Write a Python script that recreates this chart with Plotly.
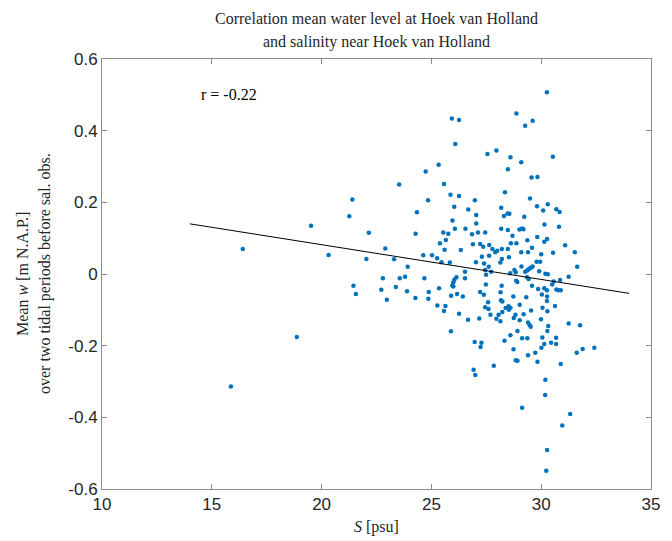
import plotly.graph_objects as go

# Salinity S [psu] and mean water level w [m N.A.P.] per salinity observation
salinity = [
    30.26, 25.93, 26.26, 28.87, 29.27, 29.61, 26.09, 27.55, 27.96, 28.60,
    29.09, 30.53, 28.48, 24.74, 25.33, 23.53, 25.57, 29.56, 29.83, 24.85,
    25.87, 26.26, 28.35, 26.98, 29.49, 24.34, 26.04, 26.68, 27.04, 28.18,
    28.30, 28.47, 28.55, 29.23, 29.81, 30.09, 30.30, 30.69, 30.84, 25.96,
    27.04, 30.15, 30.81, 26.07, 26.55, 28.18, 28.48, 29.01, 29.13, 29.19,
    24.28, 25.54, 25.77, 26.85, 27.12, 27.45, 28.69, 29.82, 30.27, 30.14,
    25.39, 25.66, 26.34, 26.89, 27.22, 27.36, 27.63, 27.91, 28.00, 28.21,
    28.48, 28.62, 28.87, 29.09, 29.37, 29.40, 29.58, 30.00, 30.54, 31.09,
    31.53, 25.60, 24.63, 25.03, 25.26, 25.46, 25.84, 27.03, 27.30, 27.63,
    27.78, 26.53, 27.40, 27.45, 27.61, 27.72, 28.14, 28.21, 28.53, 28.59,
    28.78, 28.84, 29.10, 29.27, 29.36, 29.43, 29.49, 29.55, 29.61, 29.79,
    29.95, 29.91, 30.19, 30.30, 31.64, 27.49, 24.68, 26.00, 26.05, 26.14,
    25.95, 26.53, 27.48, 28.20, 28.86, 28.91, 29.36, 29.43, 29.58, 29.86,
    30.14, 30.50, 30.57, 30.69, 30.78, 30.89, 30.86, 31.25, 24.88, 24.86,
    25.35, 25.90, 26.00, 26.17, 26.43, 27.22, 27.39, 27.58, 28.15, 28.17,
    28.23, 28.51, 28.60, 28.73, 29.02, 29.32, 30.03, 30.27, 30.26, 30.06,
    30.28, 30.63, 29.54, 30.26, 25.27, 25.64, 25.57, 26.26, 26.67, 27.18,
    27.45, 27.60, 27.69, 27.96, 28.06, 28.14, 28.23, 28.38, 28.53, 28.75,
    28.83, 29.02, 29.20, 29.40, 29.52, 29.99, 30.32, 31.25, 31.77, 25.89,
    28.60, 28.92, 29.13, 29.37, 29.47, 30.05, 30.28, 30.68, 26.97, 27.28,
    27.24, 28.33, 28.74, 29.40, 29.73, 30.01, 30.14, 30.45, 31.89, 31.62,
    32.42, 30.68, 26.92, 27.84, 28.84, 28.92, 29.83, 30.89, 27.00, 30.19,
    30.18, 29.13, 31.32, 30.96, 30.27, 30.23, 21.40, 21.26, 19.52, 22.15,
    16.41, 20.32, 22.90, 22.04, 23.30, 22.79, 21.45, 21.56, 22.72, 23.38,
    22.97, 18.87, 15.87, 23.92, 23.56, 23.80, 23.89, 24.27,
]
water_level = [
    0.507, 0.434, 0.430, 0.448, 0.414, 0.428, 0.363, 0.335, 0.345, 0.326,
    0.312, 0.327, 0.292, 0.286, 0.305, 0.250, 0.251, 0.269, 0.271, 0.206,
    0.221, 0.218, 0.228, 0.206, 0.211, 0.172, 0.188, 0.180, 0.165, 0.185,
    0.162, 0.169, 0.168, 0.160, 0.189, 0.177, 0.195, 0.181, 0.173, 0.149,
    0.141, 0.138, 0.132, 0.126, 0.126, 0.126, 0.123, 0.124, 0.127, 0.125,
    0.112, 0.116, 0.112, 0.111, 0.116, 0.116, 0.107, 0.103, 0.098, 0.090,
    0.086, 0.095, 0.067, 0.083, 0.084, 0.076, 0.081, 0.061, 0.065, 0.070,
    0.070, 0.086, 0.086, 0.061, 0.094, 0.061, 0.073, 0.055, 0.059, 0.080,
    0.061, 0.068, 0.052, 0.052, 0.044, 0.033, 0.032, 0.033, 0.048, 0.051,
    0.070, 0.006, 0.029, 0.011, 0.020, 0.006, 0.032, 0.042, 0.047, 0.002,
    0.011, 0.005, 0.021, 0.006, 0.010, 0.013, 0.016, 0.018, 0.021, 0.034,
    0.034, 0.008, 0.001, -0.001, 0.020, -0.002, -0.012, -0.023, -0.015, -0.009,
    -0.032, -0.012, -0.029, -0.033, -0.019, -0.022, -0.009, -0.014, -0.033, -0.042,
    -0.040, -0.029, -0.021, -0.043, -0.045, -0.045, -0.017, -0.008, -0.050, -0.069,
    -0.040, -0.061, -0.035, -0.056, -0.063, -0.050, -0.058, -0.079, -0.051, -0.073,
    -0.077, -0.090, -0.094, -0.063, -0.086, -0.065, -0.057, -0.063, -0.075, -0.094,
    -0.104, -0.089, -0.102, -0.045, -0.088, -0.089, -0.103, -0.111, -0.128, -0.124,
    -0.093, -0.098, -0.114, -0.125, -0.114, -0.132, -0.106, -0.095, -0.100, -0.123,
    -0.114, -0.129, -0.112, -0.135, -0.147, -0.126, -0.145, -0.138, -0.143, -0.160,
    -0.171, -0.159, -0.179, -0.179, -0.142, -0.177, -0.159, -0.178, -0.190, -0.192,
    -0.204, -0.186, -0.210, -0.227, -0.220, -0.206, -0.195, -0.192, -0.209, -0.220,
    -0.206, -0.195, -0.267, -0.256, -0.241, -0.242, -0.245, -0.251, -0.282, -0.295,
    -0.338, -0.373, -0.391, -0.423, -0.491, -0.549, 0.208, 0.161, 0.135, 0.115,
    0.070, 0.053, 0.071, 0.042, 0.041, -0.012, -0.033, -0.056, -0.044, -0.036,
    -0.072, -0.176, -0.314, 0.020, -0.012, -0.008, -0.048, -0.067,
]

# Least-squares fit line end points
fit_salinity = [14.0, 34.0]
fit_level = [0.140, -0.054]
corr_label = "r = -0.22"

x_ticks = [10, 15, 20, 25, 30, 35]
y_ticks = [-0.6, -0.4, -0.2, 0.0, 0.2, 0.4, 0.6]
y_tick_text = ["-0.6", "-0.4", "-0.2", "0", "0.2", "0.4", "0.6"]

serif = "Liberation Serif"
sans = "Liberation Sans"
axis_grey = "#8c8c8c"
text_grey = "#262626"

fig = go.Figure()
fig.add_trace(go.Scatter(
    x=salinity, y=water_level, mode="markers",
    marker=dict(color="#0072BD", size=4.5, line=dict(width=0)),
    showlegend=False, hoverinfo="skip",
))
fig.add_trace(go.Scatter(
    x=fit_salinity, y=fit_level, mode="lines",
    line=dict(color="black", width=1),
    showlegend=False, hoverinfo="skip",
))

axis_common = dict(
    showline=True, linecolor=axis_grey, linewidth=1, mirror="ticks",
    ticks="inside", ticklen=5, tickcolor=axis_grey, tickwidth=1,
    showgrid=False, zeroline=False,
    tickfont=dict(family=sans, size=17, color=text_grey),
)
fig.update_xaxes(range=[10, 35], tickvals=x_ticks,
                 ticktext=[str(v) for v in x_ticks], **axis_common)
fig.update_yaxes(range=[-0.6, 0.6], tickvals=y_ticks,
                 ticktext=y_tick_text, **axis_common)

label_font = dict(family=serif, size=16, color=text_grey)
annotations = [
    dict(text="Correlation mean water level at Hoek van Holland",
         xref="paper", yref="paper", x=0.5, y=1, yshift=41,
         xanchor="center", yanchor="middle", showarrow=False, font=label_font),
    dict(text="and salinity near Hoek van Holland",
         xref="paper", yref="paper", x=0.5, y=1, yshift=17,
         xanchor="center", yanchor="middle", showarrow=False, font=label_font),
    dict(text="<i>S</i> [psu]",
         xref="paper", yref="paper", x=0.5, y=0, yshift=-38,
         xanchor="center", yanchor="middle", showarrow=False, font=label_font),
    dict(text="Mean <i>w</i> [m N.A.P.]",
         xref="paper", yref="paper", x=0, y=0.5, xshift=-80, textangle=-90,
         xanchor="center", yanchor="middle", showarrow=False, font=label_font),
    dict(text="over two tidal periods before sal. obs.",
         xref="paper", yref="paper", x=0, y=0.5, xshift=-57, textangle=-90,
         xanchor="center", yanchor="middle", showarrow=False, font=label_font),
    dict(text=corr_label, x=15.8, y=0.5, xref="x", yref="y",
         xanchor="center", yanchor="middle",
         showarrow=False, font=dict(family=serif, size=16, color="black")),
]

fig.update_layout(
    width=672, height=541,
    margin=dict(l=102, r=15, t=59, b=52),
    paper_bgcolor="white", plot_bgcolor="white",
    annotations=annotations,
)

fig.write_html("out.html")
